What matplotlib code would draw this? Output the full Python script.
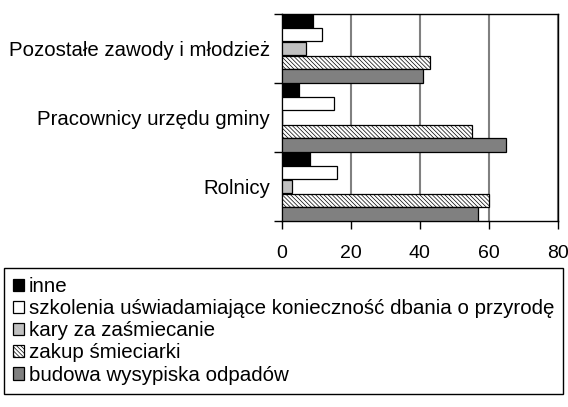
import matplotlib
matplotlib.use("Agg")
import matplotlib.pyplot as plt
import numpy as np

plt.rcParams["font.family"] = ["Liberation Sans", "DejaVu Sans"]
plt.rcParams["hatch.linewidth"] = 0.5

categories = ["Rolnicy", "Pracownicy urzędu gminy", "Pozostałe zawody i młodzież"]
series_names = [
    "inne",
    "szkolenia uświadamiające konieczność dbania o przyrodę",
    "kary za zaśmiecanie",
    "zakup śmieciarki",
    "budowa wysypiska odpadów",
]
inne = [8, 5, 9]
szkolenia = [16, 15, 11.5]
kary = [3, 0, 7]
zakup = [60, 55, 43]
budowa = [57, 65, 41]
x_ticks = [0, 20, 40, 60, 80]

colors = ["black", "white", "#c0c0c0", "white", "#808080"]
hatches = [None, None, None, "\\\\\\\\\\\\\\\\", None]

fig = plt.figure(figsize=(5.68, 4.07), dpi=100)
ax = fig.add_axes([0.4965, 0.4570, 0.4854, 0.5086])

y = np.arange(len(categories))
h = 0.196
all_series = [inne, szkolenia, kary, zakup, budowa]
for k, vals in enumerate(all_series):
    ax.barh(y + 0.4 - 0.2 * k, vals, height=h, color=colors[k], hatch=hatches[k],
            edgecolor="black", linewidth=0.9, label=series_names[k], zorder=3)

ax.set_xlim(0, 80)
ax.set_ylim(-0.5, 2.5)
ax.set_xticks(x_ticks)
ax.set_yticks(y, categories)
ax.set_yticks(np.arange(-0.5, 2.6, 1.0), minor=True)
ax.tick_params(axis="y", which="major", length=0, pad=8.5, labelsize=14.7)
ax.tick_params(axis="y", which="minor", length=6, width=1)
ax.tick_params(axis="x", length=6, width=1, labelsize=14, pad=11)
ax.grid(axis="x", color="#808080", linewidth=1.5, zorder=0)
for s in ax.spines.values():
    s.set_linewidth(1)

leg = fig.legend(loc="upper left", bbox_to_anchor=(4 / 568, 1 - 268 / 407),
                 fontsize=14.8, frameon=True, fancybox=False, framealpha=1,
                 edgecolor="black", handlelength=0.5, handleheight=0.55,
                 handletextpad=0.25, labelspacing=0.15, borderpad=0.45,
                 borderaxespad=0)
leg.get_frame().set_linewidth(1)

fig.savefig("out.png", dpi=100)
